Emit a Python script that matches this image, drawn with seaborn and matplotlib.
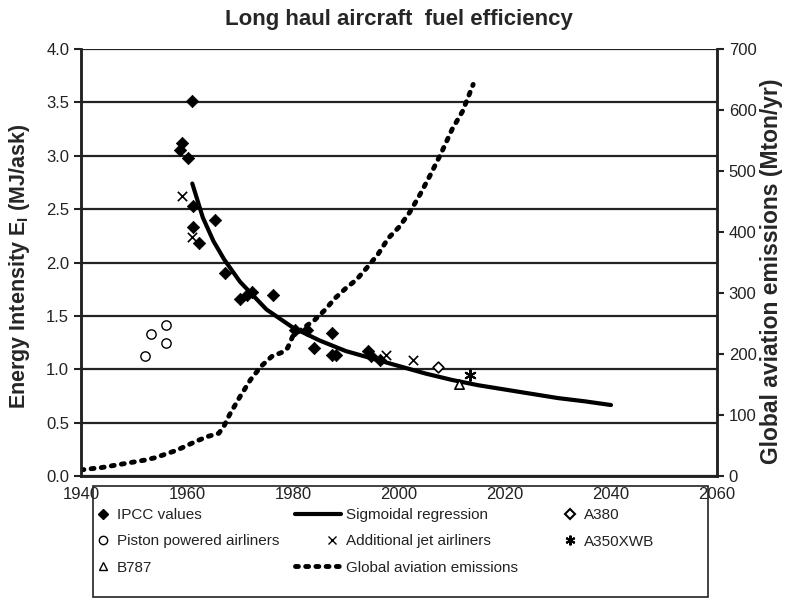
import numpy as np
import pandas as pd
import matplotlib
matplotlib.use('Agg')
import matplotlib.pyplot as plt
import seaborn as sns
from matplotlib.lines import Line2D
from matplotlib.patches import Rectangle
from matplotlib.legend_handler import HandlerLine2D

# Datos
ipcc_year = [1961.0, 1959.0, 1958.7, 1960.2, 1961.1, 1965.3, 1961.1, 1962.3, 1967.2,
             1970.0, 1971.3, 1972.2, 1976.2, 1980.4, 1982.6, 1987.3, 1984.0, 1987.3,
             1988.2, 1994.2, 1994.8, 1996.4]
ipcc_ei = [3.51, 3.12, 3.05, 2.98, 2.53, 2.40, 2.33, 2.18, 1.90,
           1.66, 1.70, 1.72, 1.70, 1.37, 1.37, 1.34, 1.20, 1.13,
           1.13, 1.17, 1.12, 1.09]

piston_year = [1952.1, 1953.2, 1956.0, 1956.0]
piston_ei = [1.12, 1.33, 1.41, 1.25]

jet_year = [1959.0, 1961.0, 1997.5, 2002.6]
jet_ei = [2.62, 2.24, 1.13, 1.09]

a380_year = [2007.4]
a380_ei = [1.02]
a350_year = [2013.4]
a350_ei = [0.95]
b787_year = [2011.4]
b787_ei = [0.86]

reg_year = [1961, 1962, 1963, 1965, 1967, 1970, 1975, 1980, 1985, 1990, 1995,
            2000, 2005, 2010, 2015, 2020, 2025, 2030, 2035, 2040]
reg_ei = [2.74, 2.58, 2.42, 2.20, 2.03, 1.82, 1.56, 1.39, 1.27, 1.17, 1.10,
          1.03, 0.96, 0.90, 0.85, 0.81, 0.77, 0.73, 0.70, 0.665]

em_year = [1940, 1942, 1944, 1946, 1948, 1950, 1952, 1954, 1956, 1958, 1960,
           1962, 1964, 1966, 1967, 1968, 1970, 1972, 1974, 1976, 1978, 1979,
           1980, 1982, 1984, 1986, 1988, 1990, 1992, 1994, 1996, 1998, 2000,
           2002, 2004, 2006, 2008, 2010, 2012, 2014]
em_mton = [10, 12, 14, 17, 20, 23, 26, 30, 36, 42, 50,
           58, 65, 70, 82, 100, 130, 158, 180, 196, 203, 210,
           230, 243, 255, 272, 292, 308, 322, 342, 363, 390, 408,
           432, 462, 495, 530, 568, 598, 642]

sns.set_style('white')
plt.rcParams['font.family'] = ['Liberation Sans', 'DejaVu Sans']

fig = plt.figure(figsize=(7.97, 6.03), dpi=100)
ax = fig.add_axes([0.1016, 0.2106, 0.798, 0.7081])
ax2 = ax.twinx()

k = dict(color='black', ax=ax, legend=False, zorder=4)
sns.lineplot(x=reg_year, y=reg_ei, lw=3, **k)
sns.scatterplot(x=ipcc_year, y=ipcc_ei, marker='D', s=40, edgecolor='black', **k)
sns.scatterplot(x=piston_year, y=piston_ei, marker='o', s=45, facecolor='white',
                edgecolor='black', linewidth=1, ax=ax, legend=False, zorder=4)
sns.scatterplot(x=jet_year, y=jet_ei, marker='x', s=45, linewidth=1.2, **k)
sns.scatterplot(x=a380_year, y=a380_ei, marker='D', s=30, facecolor='white',
                edgecolor='black', linewidth=1.2, ax=ax, legend=False, zorder=4)
sns.scatterplot(x=a350_year, y=a350_ei, marker=(6, 2, 0), s=60, linewidth=1.5, **k)
sns.scatterplot(x=b787_year, y=b787_ei, marker='^', s=45, facecolor='white',
                edgecolor='black', linewidth=1.2, ax=ax, legend=False, zorder=4)

sns.lineplot(x=em_year, y=em_mton, color='black', lw=3.5, ax=ax2,
             linestyle=(0, (0.6, 1.5)), dash_capstyle='round', legend=False)

ax.set_xlim(1940, 2060)
ax.set_ylim(0, 4.0)
ax2.set_ylim(0, 700)
ax.set_xticks(range(1940, 2061, 20))
ax.set_yticks(np.arange(0, 4.01, 0.5))
ax.set_yticklabels([f'{v:.1f}' for v in np.arange(0, 4.01, 0.5)])
ax2.set_yticks(range(0, 701, 100))

ax.grid(axis='y', color='#222222', lw=1.6)
ax.set_axisbelow(True)
for a in (ax, ax2):
    a.spines['top'].set_visible(False)
    for s in ('left', 'bottom', 'right'):
        a.spines[s].set_color('#222222')
        a.spines[s].set_linewidth(1.8)
ax.tick_params(axis='both', direction='out', length=5, width=1.5, colors='#222222',
               labelsize=12, labelcolor='#222222')
ax.tick_params(axis='x', pad=3)
ax2.tick_params(axis='y', direction='out', length=5, width=1.5, colors='#222222',
                labelsize=12, labelcolor='#222222')

ax.set_ylabel(r'Energy Intensity E$_\mathregular{I}$ (MJ/ask)', fontsize=15.5,
              fontweight='bold')
ax2.set_ylabel('Global aviation emissions (Mton/yr)', fontsize=16.5,
               fontweight='bold')
ax.yaxis.set_label_coords(-0.077, 0.49)
ax2.yaxis.set_label_coords(1.068, 0.48)
ax.set_xlabel('')
fig.suptitle('Long haul aircraft  fuel efficiency', fontsize=16, fontweight='bold',
             x=0.5, y=0.985)


# la linea de la leyenda se alarga hacia la izquierda como en el original
class LongLine(HandlerLine2D):
    def get_xdata(self, legend, xdescent, ydescent, width, height, fontsize):
        xd, xm = super().get_xdata(legend, xdescent, ydescent, width, height, fontsize)
        return np.array([-xdescent - 20, -xdescent + width]), xm


h_reg = Line2D([], [], color='black', lw=3)
h_em = Line2D([], [], color='black', lw=3.5, ls=(0, (0.6, 1.5)), dash_capstyle='round')
handles = [
    Line2D([], [], ls='', marker='D', ms=5, color='black'),
    Line2D([], [], ls='', marker='o', ms=6, mfc='white', mec='black'),
    Line2D([], [], ls='', marker='^', ms=6, mfc='white', mec='black'),
    h_reg,
    Line2D([], [], ls='', marker='x', ms=6, color='black'),
    h_em,
    Line2D([], [], ls='', marker='D', ms=5, mfc='white', mec='black', mew=1.5),
    Line2D([], [], ls='', marker=(6, 2, 0), ms=7, color='black', mew=1.5),
]
labels = ['IPCC values', 'Piston powered airliners', 'B787',
          'Sigmoidal regression', 'Additional jet airliners', 'Global aviation emissions',
          'A380', 'A350XWB']
W, H = 797, 603
leg = fig.legend(handles, labels, ncol=3, loc='center', mode='expand',
                 bbox_to_anchor=(86 / W, 1 - 597 / H, (662 - 86) / W, 111 / H),
                 fontsize=11, frameon=False, borderpad=0, handlelength=1.2,
                 handletextpad=0.3, labelspacing=0.8,
                 handler_map={h_reg: LongLine(), h_em: LongLine()})
for t in leg.get_texts():
    t.set_color('#222222')
fig.add_artist(Rectangle((93 / W, 1 - 597 / H), 615 / W, 111 / H,
                         transform=fig.transFigure, fill=False,
                         edgecolor='#222222', lw=1.2))

fig.savefig('out.png', dpi=100)
